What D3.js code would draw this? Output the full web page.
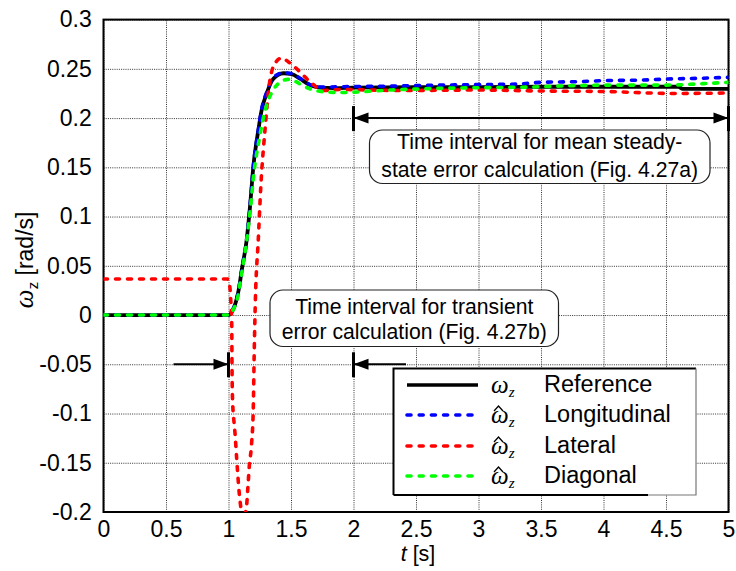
<!DOCTYPE html>
<html>
<head>
<meta charset="utf-8">
<script src="https://cdn.jsdelivr.net/npm/d3@7"></script>
<style>
  html, body { margin: 0; padding: 0; background: #fff; }
  svg { display: block; }
  text { font-family: "Liberation Sans", Arial, sans-serif; fill: #000; }
</style>
</head>
<body>
<div id="chart"></div>
<script>
// ---- data -------------------------------------------------------------
const xTicks = [0, 0.5, 1, 1.5, 2, 2.5, 3, 3.5, 4, 4.5, 5];
const xTickLabels = ["0", "0.5", "1", "1.5", "2", "2.5", "3", "3.5", "4", "4.5", "5"];
const yTicks = [-0.2, -0.15, -0.1, -0.05, 0, 0.05, 0.1, 0.15, 0.2, 0.25, 0.3];
const yTickLabels = ["-0.2", "-0.15", "-0.1", "-0.05", "0", "0.05", "0.1", "0.15", "0.2", "0.25", "0.3"];

// Reference yaw rate
const refT = [0, 1.0, 1.038, 1.065, 1.085, 1.105, 1.145, 1.172, 1.199, 1.239, 1.265, 1.305, 1.359, 1.439, 1.505, 1.572, 1.652, 1.732, 1.85, 2.0, 2.5, 3.0, 3.5, 4.0, 4.6, 4.63, 5.0];
const refV = [0, 0, 0.006, 0.016, 0.028, 0.045, 0.076, 0.11, 0.151, 0.188, 0.208, 0.225, 0.240, 0.2455, 0.2447, 0.240, 0.2335, 0.231, 0.2305, 0.231, 0.2315, 0.2315, 0.2318, 0.2318, 0.2318, 0.2297, 0.2297];

// Longitudinal estimate
const lonT = [0, 1.0, 1.038, 1.065, 1.085, 1.105, 1.145, 1.172, 1.199, 1.239, 1.265, 1.305, 1.359, 1.439, 1.505, 1.572, 1.652, 1.732, 1.9, 2.3, 2.7, 3.0, 3.3, 3.5, 3.8, 4.0, 4.3, 4.5, 4.8, 5.0];
const lonV = [0, 0, 0.006, 0.016, 0.028, 0.045, 0.076, 0.11, 0.151, 0.188, 0.209, 0.226, 0.241, 0.246, 0.2452, 0.2405, 0.234, 0.2315, 0.2318, 0.2325, 0.2335, 0.234, 0.2345, 0.2363, 0.237, 0.238, 0.2386, 0.2396, 0.2405, 0.2414];

// Lateral estimate
const latT = [0, 0.99, 1.005, 1.015, 1.02, 1.026, 1.028, 1.032, 1.045, 1.052, 1.066, 1.086, 1.105, 1.122, 1.14, 1.155, 1.166, 1.185, 1.198, 1.206, 1.215, 1.238, 1.26, 1.292, 1.332, 1.38, 1.426, 1.48, 1.546, 1.652, 1.758, 1.9, 2.37, 3.0, 3.49, 4.0, 4.56, 5.0];
const latV = [0.0366, 0.0366, 0.033, 0.022, 0.01, -0.01, -0.05, -0.085, -0.11, -0.12, -0.147, -0.181, -0.199, -0.202, -0.199, -0.175, -0.154, -0.13, -0.096, -0.036, 0.015, 0.076, 0.134, 0.188, 0.239, 0.257, 0.261, 0.257, 0.25, 0.237, 0.228, 0.229, 0.228, 0.2285, 0.2275, 0.227, 0.225, 0.2255];

// Diagonal estimate
const diaT = [0, 1.0, 1.04, 1.07, 1.105, 1.145, 1.175, 1.205, 1.245, 1.275, 1.31, 1.36, 1.42, 1.476, 1.53, 1.6, 1.68, 1.78, 1.9, 2.3, 2.69, 3.0, 3.49, 3.65, 4.03, 4.5, 4.8, 5.0];
const diaV = [0, 0, 0.006, 0.016, 0.042, 0.075, 0.108, 0.146, 0.178, 0.198, 0.215, 0.229, 0.237, 0.2393, 0.2375, 0.2325, 0.2285, 0.2265, 0.226, 0.2285, 0.2302, 0.2308, 0.2318, 0.2325, 0.2335, 0.2335, 0.235, 0.2363];

const seriesNames = ["Reference", "Longitudinal", "Lateral", "Diagonal"];
const seriesColors = ["#000000", "#0000ff", "#ff0000", "#00ff00"];

// ---- layout ------------------------------------------------------------
const W = 736, H = 571;
const X0 = 103.5, X1 = 728.5, Y0 = 19.6, Y1 = 512;

const svg = d3.select("#chart").append("svg")
  .attr("width", W).attr("height", H);

const x = d3.scaleLinear().domain([0, 5]).range([X0, X1]);
const y = d3.scaleLinear().domain([-0.2, 0.3]).range([Y1, Y0]);

svg.append("defs").append("clipPath").attr("id", "plotClip")
  .append("rect").attr("x", X0).attr("y", Y0).attr("width", X1 - X0).attr("height", Y1 - Y0);

// axes with full-length dotted grid lines
const gx = svg.append("g").attr("transform", `translate(0,${Y1})`)
  .call(d3.axisBottom(x).tickValues(xTicks).tickFormat((d, i) => xTickLabels[i])
    .tickSize(-(Y1 - Y0)).tickPadding(8.5));
const gy = svg.append("g").attr("transform", `translate(${X0},0)`)
  .call(d3.axisLeft(y).tickValues(yTicks).tickFormat((d, i) => yTickLabels[i])
    .tickSize(-(X1 - X0)).tickPadding(11.8));
[gx, gy].forEach(g => {
  g.select(".domain").remove();
  g.selectAll(".tick line").attr("stroke", "#333").attr("stroke-width", 1)
    .attr("stroke-dasharray", "1,1.2");
  g.selectAll(".tick text").style("font-family", '"Liberation Sans", Arial, sans-serif')
    .style("font-size", "23px").attr("fill", "#000");
});

// plot frame
svg.append("rect").attr("x", X0).attr("y", Y0).attr("width", X1 - X0).attr("height", Y1 - Y0)
  .attr("fill", "none").attr("stroke", "#000").attr("stroke-width", 2);

// ---- series -------------------------------------------------------------
const line = d3.line().x(d => x(d[0])).y(d => y(d[1])).curve(d3.curveMonotoneX);
const seriesData = [d3.zip(refT, refV), d3.zip(lonT, lonV), d3.zip(latT, latV), d3.zip(diaT, diaV)];

const plot = svg.append("g").attr("clip-path", "url(#plotClip)");
seriesData.forEach((data, i) => {
  const p = plot.append("path").datum(data).attr("d", line)
    .attr("fill", "none").attr("stroke", seriesColors[i]);
  if (i === 0) {
    p.attr("stroke-width", 3.8);
  } else {
    p.attr("stroke-width", 3.6).attr("stroke-linecap", "round").attr("stroke-dasharray", "4,8");
  }
});

// ---- interval annotations ---------------------------------------------
function arrowHead(g, xTip, yy, dir) {
  g.append("path")
    .attr("d", `M${xTip},${yy} L${xTip - dir * 15},${yy - 5.5} L${xTip - dir * 15},${yy + 5.5} Z`)
    .attr("fill", "#000");
}
function bar(g, xx, yy) {
  g.append("line").attr("x1", xx).attr("x2", xx).attr("y1", yy - 12).attr("y2", yy + 13)
    .attr("stroke", "#000").attr("stroke-width", 3);
}
const ann = svg.append("g");

// steady-state interval: 2 s .. 5 s
const ySteady = y(0.2);
ann.append("line").attr("x1", x(2)).attr("x2", x(5)).attr("y1", ySteady).attr("y2", ySteady)
  .attr("stroke", "#000").attr("stroke-width", 2);
arrowHead(ann, x(2), ySteady, -1);
arrowHead(ann, x(5), ySteady, 1);
bar(ann, x(2), ySteady);
bar(ann, x(5), ySteady);

// transient interval: 1 s .. 2 s (pointers from outside)
const yTrans = y(-0.05);
ann.append("line").attr("x1", x(0.56)).attr("x2", x(1)).attr("y1", yTrans).attr("y2", yTrans)
  .attr("stroke", "#000").attr("stroke-width", 2);
ann.append("line").attr("x1", x(2.42)).attr("x2", x(2)).attr("y1", yTrans).attr("y2", yTrans)
  .attr("stroke", "#000").attr("stroke-width", 2);
arrowHead(ann, x(1), yTrans, 1);
arrowHead(ann, x(2), yTrans, -1);
bar(ann, x(1), yTrans);
bar(ann, x(2), yTrans);

function noteBox(g, bx, by, bw, bh, lines, baselines) {
  g.append("rect").attr("x", bx).attr("y", by).attr("width", bw).attr("height", bh)
    .attr("rx", 13).attr("ry", 13)
    .attr("fill", "#fff").attr("stroke", "#222").attr("stroke-width", 1.2);
  lines.forEach((t, i) => {
    g.append("text").attr("x", bx + bw / 2).attr("y", baselines[i])
      .attr("text-anchor", "middle").style("font-size", "21.2px").text(t);
  });
}
noteBox(ann, 369.5, 130, 340.5, 53.5,
  ["Time interval for mean steady-", "state error calculation (Fig. 4.27a)"], [148.5, 176.5]);
noteBox(ann, 270, 290, 288.5, 56.5,
  ["Time interval for transient", "error calculation (Fig. 4.27b)"], [313.5, 338.5]);

// ---- legend -------------------------------------------------------------
const LX0 = 393.5, LX1 = 696, LY0 = 368.5, LY1 = 495;
const leg = svg.append("g");
leg.append("rect").attr("x", LX0).attr("y", LY0).attr("width", LX1 - LX0).attr("height", LY1 - LY0)
  .attr("fill", "#fff").attr("stroke", "none");
leg.append("path").attr("d", `M${LX0},${LY1} L${LX0},${LY0} L${LX1},${LY0}`)
  .attr("fill", "none").attr("stroke", "#000").attr("stroke-width", 2);
leg.append("line").attr("x1", LX0).attr("x2", 648).attr("y1", LY1).attr("y2", LY1)
  .attr("stroke", "#000").attr("stroke-width", 2);
leg.append("path").attr("d", `M648,${LY1} L${LX1},${LY1} L${LX1},${LY0}`)
  .attr("fill", "none").attr("stroke", "#777").attr("stroke-width", 1.2);

const rowY = [385, 415, 446, 476];
seriesNames.forEach((name, i) => {
  const ry = rowY[i];
  const s = leg.append("line").attr("x1", 407).attr("x2", 478).attr("y1", ry).attr("y2", ry)
    .attr("stroke", seriesColors[i]);
  if (i === 0) s.attr("stroke-width", 3.6);
  else s.attr("stroke-width", 3.6).attr("stroke-linecap", "round").attr("stroke-dasharray", "4,8.2");

  // omega symbol (hatted for the estimates) with subscript z
  const sym = leg.append("text").attr("x", 491).attr("y", ry + 8)
    .style("font-family", '"Liberation Serif", "Times New Roman", serif')
    .style("font-style", "italic");
  sym.append("tspan").style("font-size", "25px").text("ω");
  sym.append("tspan").attr("dy", 4).style("font-size", "15px").text("z");
  if (i > 0) {
    leg.append("path")
      .attr("d", `M${494},${ry - 4} L${498.5},${ry - 9} L${503},${ry - 4}`)
      .attr("fill", "none").attr("stroke", "#000").attr("stroke-width", 1.3);
  }
  leg.append("text").attr("x", 544).attr("y", ry + 6.8)
    .style("font-size", "23.5px").text(name);
});

// ---- axis titles ----------------------------------------------------------
const yTitle = svg.append("text").attr("transform", "translate(33,260) rotate(-90)")
  .attr("text-anchor", "middle");
yTitle.append("tspan").style("font-family", '"Liberation Serif", "Times New Roman", serif')
  .style("font-style", "italic").style("font-size", "27px").text("ω");
yTitle.append("tspan").attr("dy", 5).style("font-size", "15px").text("z");
yTitle.append("tspan").attr("dy", -5).style("font-size", "23px").text(" [rad/s]");

const xTitle = svg.append("text").attr("x", 418).attr("y", 561).attr("text-anchor", "middle")
  .style("font-size", "21.5px");
xTitle.append("tspan").style("font-style", "italic").text("t");
xTitle.append("tspan").text(" [s]");
</script>
</body>
</html>
